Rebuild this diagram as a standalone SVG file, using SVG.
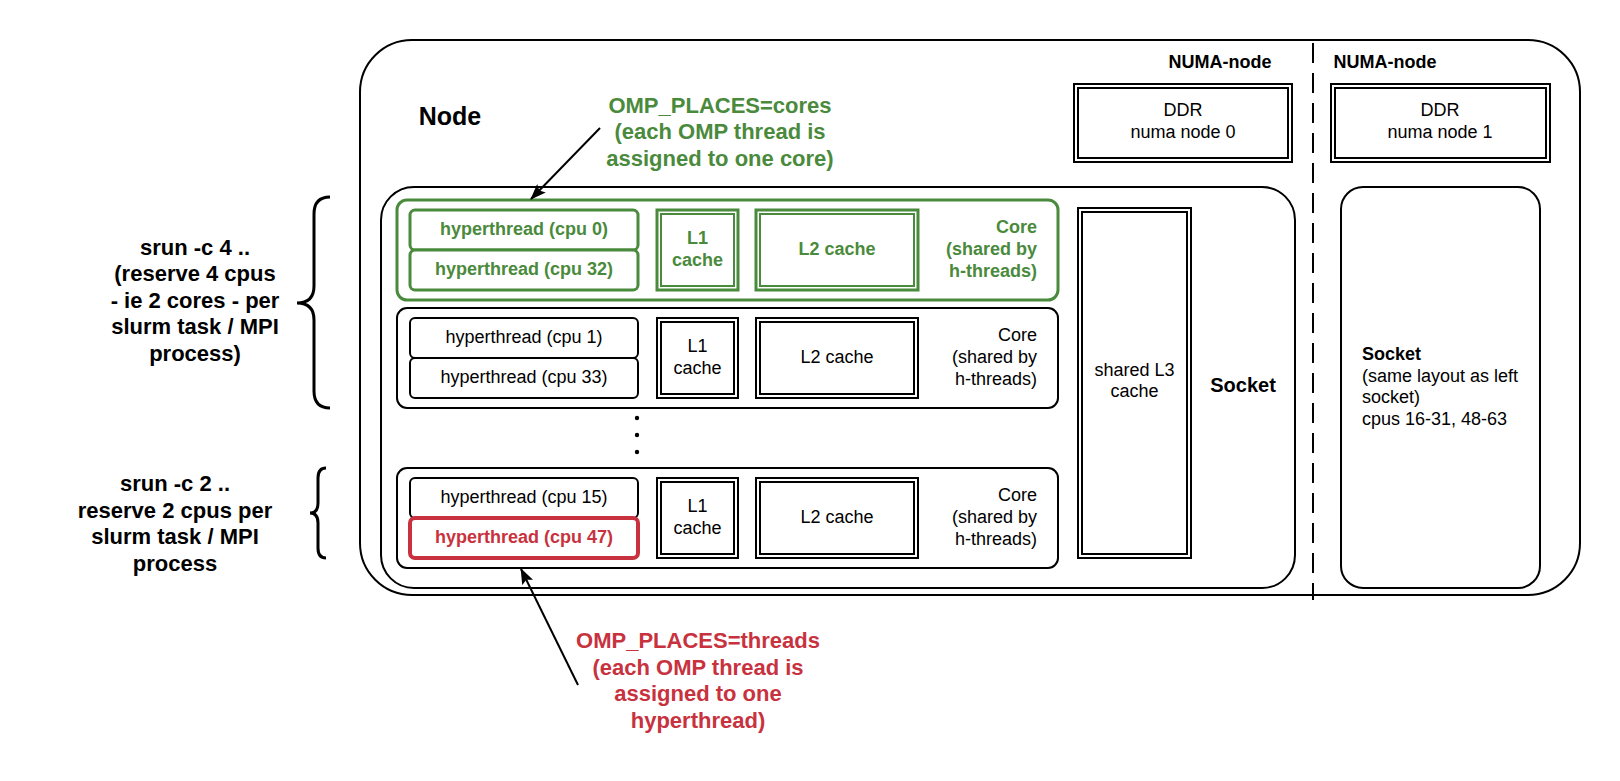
<svg xmlns="http://www.w3.org/2000/svg" width="1620" height="781" viewBox="0 0 1620 781">
<defs>
<style>
text{font-family:"Liberation Sans",Arial,sans-serif;fill:#000}
.b{font-weight:bold}
.s18{font-size:18px}
.s20{font-size:20px}
.s22{font-size:22px}
.s25{font-size:25px}
.m{text-anchor:middle}
.e{text-anchor:end}
text.g{fill:#4a8a3c}
text.r{fill:#c8323e}
.k{fill:#fff;stroke:#000;stroke-width:2}
.kn{fill:none;stroke:#000;stroke-width:2}
.gk{fill:#fff;stroke:#4a8a3c;stroke-width:3}
.gn{fill:none;stroke:#4a8a3c;stroke-width:2}
.rk{fill:#fff;stroke:#c8323e;stroke-width:4}
.brace{fill:none;stroke:#000;stroke-width:3}
.conn{fill:none;stroke:#000;stroke-width:2}
</style>
<marker id="arr" viewBox="0 0 16 12" refX="15" refY="6" markerWidth="16" markerHeight="12" markerUnits="userSpaceOnUse" orient="auto">
<path d="M0,0 L16,6 L0,12 L3,6 z" fill="#000"/>
</marker>
</defs>
<rect width="1620" height="781" fill="#fff"/>

<g id="node">
<rect class="k" x="360" y="40" width="1220" height="555" rx="52"/>
<text class="b s25 m" x="450" y="125">Node</text>
</g>

<g id="numa-divider">
<line x1="1313" y1="43" x2="1313" y2="600" stroke="#000" stroke-width="2" stroke-dasharray="20 10"/>
<text class="b s18 m" x="1220" y="68">NUMA-node</text>
<text class="b s18 m" x="1385" y="68">NUMA-node</text>
</g>

<g id="ddr0">
<rect class="k" x="1074" y="84" width="218" height="78"/>
<rect class="kn" x="1078" y="88" width="210" height="70"/>
<text class="s18 m" x="1183" y="116">DDR</text>
<text class="s18 m" x="1183" y="138">numa node 0</text>
</g>

<g id="ddr1">
<rect class="k" x="1331" y="84" width="219" height="78"/>
<rect class="kn" x="1335" y="88" width="211" height="70"/>
<text class="s18 m" x="1440" y="116">DDR</text>
<text class="s18 m" x="1440" y="138">numa node 1</text>
</g>

<g id="socket0">
<rect class="k" x="381" y="187" width="914" height="401" rx="33"/>
<text class="b s20 m" x="1243" y="392">Socket</text>
</g>

<g id="socket1">
<rect class="k" x="1341" y="187" width="199" height="401" rx="22"/>
<text class="b s18" x="1362" y="360">Socket</text>
<text class="s18" x="1362" y="382">(same layout as left</text>
<text class="s18" x="1362" y="403">socket)</text>
<text class="s18" x="1362" y="425">cpus 16-31, 48-63</text>
</g>

<g id="l3">
<rect class="k" x="1078" y="208" width="113" height="350"/>
<rect class="kn" x="1082" y="212" width="105" height="342"/>
<text class="s18 m" x="1134.5" y="376">shared L3</text>
<text class="s18 m" x="1134.5" y="397">cache</text>
</g>

<g id="core0">
<rect class="gk" x="397" y="200" width="661" height="100" rx="10"/>
<rect class="gk" x="410" y="210" width="228" height="40" rx="5"/>
<rect class="gk" x="410" y="250" width="228" height="40" rx="5"/>
<text class="b s18 m g" x="524" y="235">hyperthread (cpu 0)</text>
<text class="b s18 m g" x="524" y="275">hyperthread (cpu 32)</text>
<rect class="gk" x="657" y="210" width="81" height="80"/>
<rect class="gn" x="661" y="214" width="73" height="72"/>
<text class="b s18 m g" x="697.5" y="244">L1</text>
<text class="b s18 m g" x="697.5" y="266">cache</text>
<rect class="gk" x="756" y="210" width="162" height="80"/>
<rect class="gn" x="760" y="214" width="154" height="72"/>
<text class="b s18 m g" x="837" y="255">L2 cache</text>
<text class="b s18 e g" x="1037" y="233">Core</text>
<text class="b s18 e g" x="1037" y="255">(shared by</text>
<text class="b s18 e g" x="1037" y="277">h-threads)</text>
</g>

<g id="core1">
<rect class="k" x="397" y="308" width="661" height="100" rx="10"/>
<rect class="k" x="410" y="318" width="228" height="40" rx="5"/>
<rect class="k" x="410" y="358" width="228" height="40" rx="5"/>
<text class="s18 m" x="524" y="343">hyperthread (cpu 1)</text>
<text class="s18 m" x="524" y="383">hyperthread (cpu 33)</text>
<rect class="k" x="657" y="318" width="81" height="80"/>
<rect class="kn" x="661" y="322" width="73" height="72"/>
<text class="s18 m" x="697.5" y="352">L1</text>
<text class="s18 m" x="697.5" y="374">cache</text>
<rect class="k" x="756" y="318" width="162" height="80"/>
<rect class="kn" x="760" y="322" width="154" height="72"/>
<text class="s18 m" x="837" y="363">L2 cache</text>
<text class="s18 e" x="1037" y="341">Core</text>
<text class="s18 e" x="1037" y="363">(shared by</text>
<text class="s18 e" x="1037" y="385">h-threads)</text>
</g>

<g id="ellipsis">
<circle cx="637" cy="418" r="2.2" fill="#000"/>
<circle cx="637" cy="435" r="2.2" fill="#000"/>
<circle cx="637" cy="452" r="2.2" fill="#000"/>
</g>

<g id="core15">
<rect class="k" x="397" y="468" width="661" height="100" rx="10"/>
<rect class="k" x="410" y="478" width="228" height="40" rx="5"/>
<rect class="rk" x="410" y="518" width="228" height="40" rx="5"/>
<text class="s18 m" x="524" y="503">hyperthread (cpu 15)</text>
<text class="b s18 m r" x="524" y="543">hyperthread (cpu 47)</text>
<rect class="k" x="657" y="478" width="81" height="80"/>
<rect class="kn" x="661" y="482" width="73" height="72"/>
<text class="s18 m" x="697.5" y="512">L1</text>
<text class="s18 m" x="697.5" y="534">cache</text>
<rect class="k" x="756" y="478" width="162" height="80"/>
<rect class="kn" x="760" y="482" width="154" height="72"/>
<text class="s18 m" x="837" y="523">L2 cache</text>
<text class="s18 e" x="1037" y="501">Core</text>
<text class="s18 e" x="1037" y="523">(shared by</text>
<text class="s18 e" x="1037" y="545">h-threads)</text>
</g>

<g id="label-srun4">
<path class="brace" d="M330,197 Q314,197 314,214 L314,286 Q314,303 297,303 Q314,303 314,320 L314,391 Q314,408 330,408"/>
<text class="b s22 m" x="195" y="255">srun -c 4 ..</text>
<text class="b s22 m" x="195" y="281">(reserve 4 cpus</text>
<text class="b s22 m" x="195" y="308">- ie 2 cores - per</text>
<text class="b s22 m" x="195" y="334">slurm task / MPI</text>
<text class="b s22 m" x="195" y="361">process)</text>
</g>

<g id="label-srun2">
<path class="brace" d="M326,468 Q318,468 318,478 L318,503 Q318,513 310,513 Q318,513 318,523 L318,548 Q318,558 326,558"/>
<text class="b s22 m" x="175" y="491">srun -c 2 ..</text>
<text class="b s22 m" x="175" y="518">reserve 2 cpus per</text>
<text class="b s22 m" x="175" y="544">slurm task / MPI</text>
<text class="b s22 m" x="175" y="571">process</text>
</g>

<g id="label-cores">
<text class="b s22 m g" x="720" y="113">OMP_PLACES=cores</text>
<text class="b s22 m g" x="720" y="139">(each OMP thread is</text>
<text class="b s22 m g" x="720" y="166">assigned to one core)</text>
</g>

<g id="label-threads">
<text class="b s22 m r" x="698" y="648">OMP_PLACES=threads</text>
<text class="b s22 m r" x="698" y="675">(each OMP thread is</text>
<text class="b s22 m r" x="698" y="701">assigned to one</text>
<text class="b s22 m r" x="698" y="728">hyperthread)</text>
</g>

<g id="connectors">
<line class="conn" x1="600" y1="128" x2="531" y2="199" marker-end="url(#arr)"/>
<line class="conn" x1="578" y1="685" x2="521" y2="569" marker-end="url(#arr)"/>
</g>
</svg>
